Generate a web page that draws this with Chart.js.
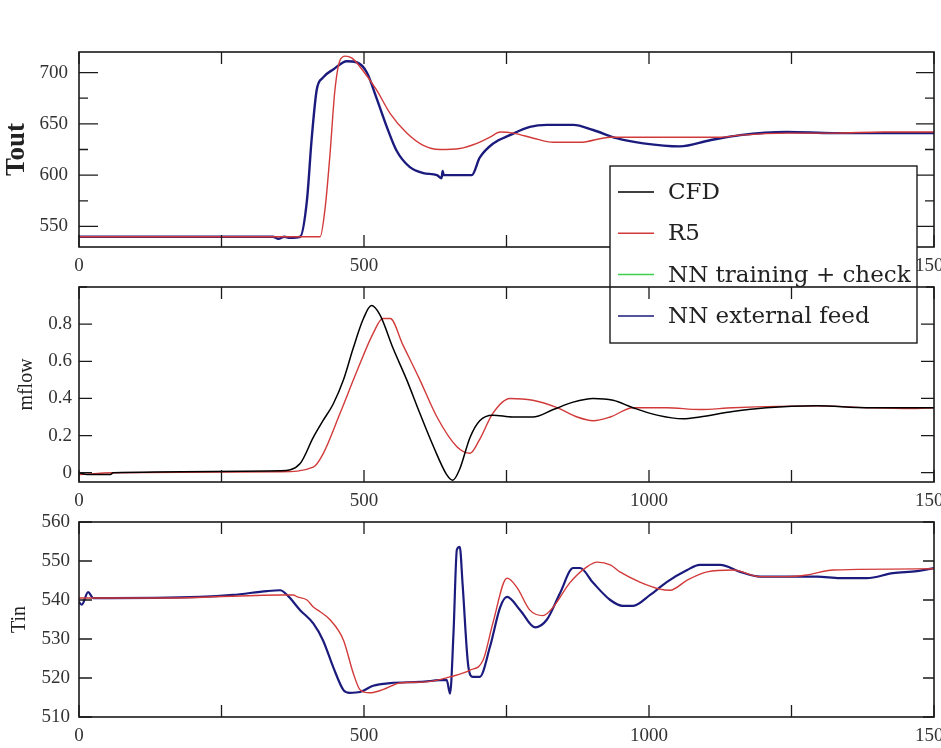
<!DOCTYPE html>
<html>
<head>
<meta charset="utf-8">
<script src="https://cdn.jsdelivr.net/npm/chart.js@4/dist/chart.umd.min.js"></script>
<style>
    html, body { margin: 0; padding: 0; background: #fff; }
    #wrap { position: relative; width: 941px; height: 748px; overflow: hidden; }
    #wrap canvas { position: absolute; left: 0; top: 0; }
</style>
</head>
<body>
<div id="wrap">
    <canvas id="toutChart" width="941" height="748"></canvas>
    <canvas id="mflowChart" width="941" height="748"></canvas>
    <canvas id="tinChart" width="941" height="748"></canvas>
</div>
<script>
// ------------------------------------------------------------
// Data (time on x)
// ------------------------------------------------------------
const legendLabels = ['CFD', 'R5', 'NN training + check', 'NN external feed'];
const legendColors = ['#000000', '#d23a3a', '#3fcf4a', '#1b1b7e'];

// Tout panel
const toutR5X = [0, 423, 432, 440, 449, 458, 467, 479, 498, 522, 546, 575, 604, 633, 668, 698, 721, 739, 762, 797, 832, 879, 932, 972, 1125, 1160, 1242, 1323, 1411, 1500];
const toutR5Y = [540, 540, 569, 618, 683, 712, 716, 714, 702, 683, 660, 641, 629, 625, 626, 631, 637, 642, 641, 636, 632, 632, 637, 637, 637, 639, 641, 641, 642, 642];
const toutNNX = [0, 340, 350, 360, 370, 388, 400, 408, 417, 428, 446, 470, 487, 505, 522, 540, 557, 580, 604, 628, 636, 638, 640, 668, 689, 703, 727, 756, 791, 821, 867, 902, 943, 990, 1054, 1107, 1160, 1242, 1323, 1411, 1500];
const toutNNY = [540, 540, 538, 540, 539, 540, 576, 634, 683, 695, 703, 711, 710, 700, 675, 647, 624, 608, 602, 600, 597, 604, 600, 600, 600, 617, 631, 639, 647, 649, 649, 644, 636, 631, 628, 634, 639, 642, 641, 641, 641];

// mflow panel
const mflowCfdX = [0, 15, 55, 60, 353, 388, 411, 428, 446, 464, 481, 499, 513, 528, 551, 575, 598, 622, 645, 656, 668, 686, 703, 726, 761, 796, 832, 867, 902, 937, 972, 1014, 1060, 1089, 1147, 1206, 1295, 1382, 1500];
const mflowCfdY = [0, -0.01, -0.01, 0, 0.01, 0.05, 0.19, 0.28, 0.37, 0.50, 0.67, 0.83, 0.90, 0.85, 0.67, 0.50, 0.32, 0.14, -0.01, -0.04, 0.02, 0.19, 0.28, 0.31, 0.30, 0.30, 0.34, 0.38, 0.40, 0.39, 0.35, 0.31, 0.29, 0.30, 0.33, 0.35, 0.36, 0.35, 0.35];
const mflowR5X = [0, 60, 353, 411, 428, 458, 488, 516, 533, 546, 568, 598, 628, 663, 686, 703, 726, 756, 796, 839, 874, 902, 932, 972, 1031, 1089, 1147, 1295, 1382, 1458, 1500];
const mflowR5Y = [-0.01, 0, 0.005, 0.03, 0.10, 0.32, 0.55, 0.75, 0.83, 0.83, 0.69, 0.50, 0.30, 0.14, 0.105, 0.18, 0.32, 0.40, 0.39, 0.35, 0.30, 0.28, 0.30, 0.35, 0.35, 0.34, 0.35, 0.36, 0.35, 0.345, 0.35];

// Tin panel
const tinR5X = [0, 150, 353, 376, 383, 400, 411, 423, 440, 464, 481, 493, 510, 533, 563, 610, 651, 686, 709, 726, 751, 768, 791, 814, 832, 861, 891, 909, 932, 949, 984, 1019, 1037, 1067, 1102, 1147, 1195, 1242, 1277, 1323, 1500];
const tinR5Y = [540.5, 540.5, 541.3, 541.3, 540.8, 540, 538.2, 537, 535, 529.7, 521.3, 517, 516.2, 517, 518.7, 519, 520.3, 522, 524.6, 534, 545.6, 543.3, 537.4, 536, 538.2, 544.4, 548.5, 549.7, 549, 547.2, 544.6, 542.8, 542.5, 545.1, 547.2, 547.7, 546, 546, 546.4, 547.7, 548];
const tinNNX = [0, 5, 16, 25, 212, 270, 330, 353, 365, 388, 411, 428, 446, 464, 475, 493, 516, 546, 598, 645, 651, 657, 663, 668, 673, 683, 691, 703, 721, 739, 751, 774, 800, 821, 844, 867, 879, 902, 932, 954, 972, 1002, 1031, 1067, 1089, 1125, 1160, 1195, 1242, 1295, 1335, 1382, 1428, 1470, 1500];
const tinNNY = [539.5, 538.8, 542, 540.5, 540.8, 541.3, 542.3, 542.5, 541.3, 537.4, 534, 529.7, 522.8, 516.9, 516.2, 516.4, 518, 518.7, 519, 519.5, 516, 531.5, 553, 553.6, 544, 523, 520.3, 520.3, 528, 538.2, 540.8, 537.4, 533, 535, 541.8, 548.2, 548.2, 544.4, 540, 538.5, 538.5, 541.3, 544.6, 547.7, 549, 549, 547.2, 546, 546, 546, 545.6, 545.6, 546.9, 547.4, 548.2];

// ------------------------------------------------------------
// Helpers
// ------------------------------------------------------------
const toPoints = (xs, ys) => xs.map((x, i) => ({ x, y: ys[i] }));

function line(label, xs, ys, color, width) {
    return {
        label,
        data: toPoints(xs, ys),
        borderColor: color,
        borderWidth: width,
        pointRadius: 0,
        fill: false,
        cubicInterpolationMode: 'monotone',
    };
}

// Frame + inward ticks on all four sides
const frameTicks = {
    id: 'frameTicks',
    afterDraw(chart, args, opts) {
        const { ctx, chartArea: a } = chart;
        const x = chart.scales.x, y = chart.scales.y;
        ctx.save();
        ctx.strokeStyle = '#1a1a1a';
        ctx.lineWidth = 1.6;
        ctx.strokeRect(a.left, a.top, a.right - a.left, a.bottom - a.top);
        ctx.lineWidth = 1.3;
        ctx.beginPath();
        x.ticks.forEach(t => {
            const px = x.getPixelForValue(t.value);
            ctx.moveTo(px, a.bottom); ctx.lineTo(px, a.bottom - opts.xLen);
            ctx.moveTo(px, a.top); ctx.lineTo(px, a.top + opts.xLen);
        });
        y.ticks.forEach(t => {
            const py = y.getPixelForValue(t.value);
            const major = t.label !== '';
            ctx.moveTo(a.left, py); ctx.lineTo(a.left + (major ? opts.lMajor : opts.lMinor), py);
            ctx.moveTo(a.right, py); ctx.lineTo(a.right - (major ? opts.rMajor : opts.rMinor), py);
        });
        ctx.stroke();
        ctx.restore();
    }
};

// Boxed legend drawn over the top panel
const boxLegend = {
    id: 'boxLegend',
    afterDraw(chart) {
        const ctx = chart.ctx;
        const box = { x: 610, y: 166, w: 307, h: 177 };
        ctx.save();
        ctx.fillStyle = '#fff';
        ctx.fillRect(box.x, box.y, box.w, box.h);
        ctx.strokeStyle = '#1a1a1a';
        ctx.lineWidth = 1.4;
        ctx.strokeRect(box.x, box.y, box.w, box.h);
        ctx.font = '23px "DejaVu Serif"';
        ctx.textBaseline = 'middle';
        legendLabels.forEach((lab, i) => {
            const cy = 192 + i * 41.3;
            ctx.strokeStyle = legendColors[i];
            ctx.lineWidth = 1.5;
            ctx.beginPath();
            ctx.moveTo(618, cy); ctx.lineTo(654, cy);
            ctx.stroke();
            ctx.fillStyle = '#222';
            ctx.fillText(lab, 668, cy + 1);
        });
        ctx.restore();
    }
};

function makePanel(id, cfg) {
    const tickFont = { family: '"Liberation Serif"', size: 19 };
    return new Chart(document.getElementById(id), {
        type: 'line',
        data: { datasets: cfg.datasets },
        options: {
            responsive: false,
            animation: false,
            events: [],
            layout: {
                autoPadding: false,
                padding: { left: 0, right: 7, top: cfg.top, bottom: 748 - cfg.bottom - 30 },
            },
            plugins: {
                legend: { display: false },
                tooltip: { enabled: false },
                frameTicks: cfg.ticks,
            },
            scales: {
                x: {
                    type: 'linear',
                    min: 0, max: 1500,
                    grid: { display: false, drawTicks: false },
                    border: { display: false },
                    afterFit: s => { s.height = 30; s.paddingLeft = 0; s.paddingRight = 0; },
                    ticks: {
                        stepSize: 250, maxTicksLimit: 20, autoSkip: false, maxRotation: 0,
                        padding: 8, color: '#333', font: tickFont,
                        callback: v => (v % 500 === 0 ? String(v) : ''),
                    },
                },
                y: {
                    min: cfg.min, max: cfg.max,
                    grid: { display: false, drawTicks: false },
                    border: { display: false },
                    afterFit: s => { s.width = 79; s.paddingTop = 0; s.paddingBottom = 0; },
                    ticks: {
                        stepSize: cfg.step, maxTicksLimit: 20, includeBounds: false,
                        padding: cfg.tickPad, color: '#333', font: tickFont,
                        callback: cfg.label,
                    },
                    title: {
                        display: true, text: cfg.title, color: '#222',
                        font: cfg.titleFont, padding: { top: cfg.titlePad, bottom: 0 },
                    },
                },
            },
        },
        plugins: cfg.extra ? [frameTicks, boxLegend] : [frameTicks],
    });
}

// ------------------------------------------------------------
// Panels
// ------------------------------------------------------------
makePanel('toutChart', {
    top: 52, bottom: 247, min: 530, max: 720, step: 25, tickPad: 11,
    title: 'Tout', titlePad: 1,
    titleFont: { family: '"Liberation Serif"', size: 27, weight: 'bold' },
    label: v => (v % 50 === 0 ? String(v) : ''),
    ticks: { xLen: 12, lMajor: 19, lMinor: 9, rMajor: 18, rMinor: 9 },
    datasets: [
        line('R5', toutR5X, toutR5Y, legendColors[1], 1.4),
        line('NN external feed', toutNNX, toutNNY, legendColors[3], 2.4),
    ],
    extra: true,
});

makePanel('mflowChart', {
    top: 287, bottom: 482, min: -0.05, max: 1.0, step: 0.1, tickPad: 7,
    title: 'mflow', titlePad: 15,
    titleFont: { family: '"Liberation Serif"', size: 20 },
    label: v => {
        const k = Math.round(v * 10);
        if (k % 2 !== 0 || k > 8) return '';
        return k === 0 ? '0' : (k / 10).toFixed(1);
    },
    ticks: { xLen: 12, lMajor: 13, lMinor: 8, rMajor: 13, rMinor: 8 },
    datasets: [
        line('CFD', mflowCfdX, mflowCfdY, legendColors[0], 1.5),
        line('R5', mflowR5X, mflowR5Y, legendColors[1], 1.4),
    ],
});

makePanel('tinChart', {
    top: 522, bottom: 717, min: 510, max: 560, step: 5, tickPad: 9,
    title: 'Tin', titlePad: 8,
    titleFont: { family: '"Liberation Serif"', size: 20 },
    label: v => (v % 10 === 0 ? String(v) : ''),
    ticks: { xLen: 12, lMajor: 13, lMinor: 8, rMajor: 11, rMinor: 6 },
    datasets: [
        line('R5', tinR5X, tinR5Y, legendColors[1], 1.4),
        line('NN external feed', tinNNX, tinNNY, legendColors[3], 2.2),
    ],
});
</script>
</body>
</html>
